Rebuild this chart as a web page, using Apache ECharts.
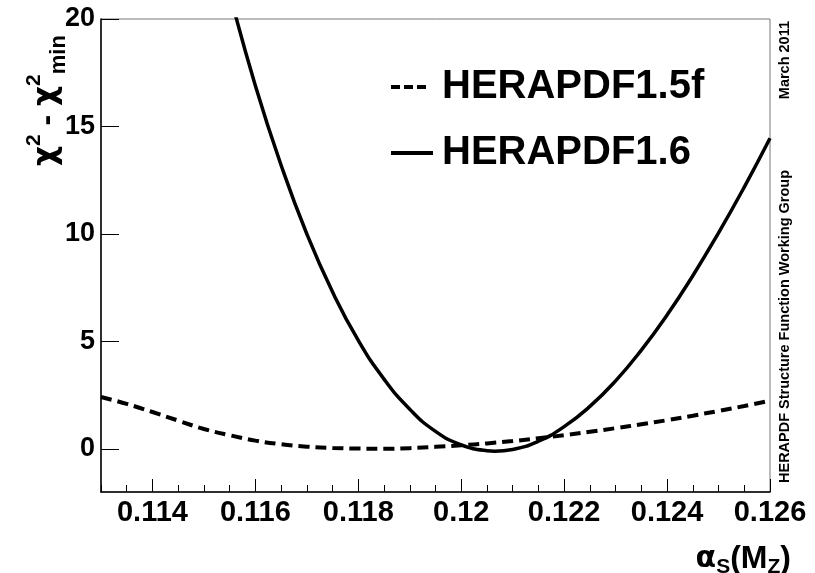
<!DOCTYPE html>
<html>
<head>
<meta charset="utf-8">
<script src="https://cdn.jsdelivr.net/npm/echarts@6/dist/echarts.min.js"></script>
<style>
html, body { margin: 0; padding: 0; background: #ffffff; }
#chart { width: 815px; height: 573px; }
</style>
</head>
<body>
<div id="chart"></div>
<script>
// HERAPDF1.5f scan: alpha_s(M_Z) and chi2 - chi2_min (dashed curve)
const alphaS15f = [0.113, 0.1135, 0.114, 0.1145, 0.115, 0.1155, 0.116, 0.1165, 0.117, 0.1175,
                   0.118, 0.1185, 0.119, 0.1195, 0.120, 0.1205, 0.121, 0.1215, 0.122, 0.1225,
                   0.123, 0.1235, 0.124, 0.1245, 0.125, 0.1255, 0.126];
const chi2Herapdf15f = [2.42, 2.10, 1.72, 1.32, 0.93, 0.64, 0.39, 0.22, 0.11, 0.05,
                        0.02, 0.01, 0.04, 0.10, 0.17, 0.26, 0.37, 0.50, 0.64, 0.80,
                        0.97, 1.15, 1.34, 1.55, 1.77, 2.00, 2.25];

// HERAPDF1.6 scan: alpha_s(M_Z) and chi2 - chi2_min (solid curve)
const alphaS16 = [0.1155, 0.116, 0.1165, 0.117, 0.1175, 0.118, 0.1185, 0.119, 0.1195, 0.120,
                  0.1205, 0.12065, 0.121, 0.1215, 0.122, 0.1225, 0.123, 0.1235, 0.124, 0.1245,
                  0.125, 0.1255, 0.126];
const chi2Herapdf16 = [21.2, 16.9, 13.2, 10.0, 7.3, 5.05, 3.25, 1.85, 0.82, 0.19,
                       -0.08, -0.1, -0.02, 0.36, 1.04, 1.98, 3.17, 4.6, 6.23, 8.06,
                       10.05, 12.18, 14.45];

const seriesNames = ['HERAPDF1.5f', 'HERAPDF1.6'];
const xTickValues = [0.114, 0.116, 0.118, 0.120, 0.122, 0.124, 0.126];
const yTickValues = [0, 5, 10, 15, 20];

const FONT = '"Liberation Sans", Arial, Helvetica, sans-serif';
const GREEK = '"DejaVu Sans", "Liberation Sans", sans-serif';

const pairs = (xs, ys) => xs.map((x, i) => [x, ys[i]]);
const fmtX = (v) => String(Number(v.toFixed(4)));

// legend glyphs: three short dashes / one solid bar
const ICON_DASHED = 'path://M0,0h9v3h-9Z M13,0h9v3h-9Z M26,0h9v3h-9Z M42,0h0.01v3h-0.01Z';
const ICON_SOLID = 'path://M0,0h42v3h-42Z';

const chart = echarts.init(document.getElementById('chart'), null, { renderer: 'canvas' });

chart.setOption({
  animation: false,
  backgroundColor: '#ffffff',
  grid: {
    left: 101, right: 45, top: 19, bottom: 81,
    show: true, borderColor: '#777777', borderWidth: 1, backgroundColor: 'transparent'
  },
  legend: {
    orient: 'vertical',
    left: 386, top: 62,
    itemWidth: 42, itemHeight: 4, itemGap: 26,
    symbolKeepAspect: false,
    data: [
      { name: seriesNames[0], icon: ICON_DASHED },
      { name: seriesNames[1], icon: ICON_SOLID }
    ],
    textStyle: { fontFamily: FONT, fontWeight: 'bold', fontSize: 40, color: '#000',
                 padding: [0, 0, 0, 4] }
  },
  xAxis: [
    {
      type: 'value', min: 0.113, max: 0.126,
      axisLine: { show: true, onZero: false, lineStyle: { color: '#000', width: 1.5 } },
      axisTick: { show: true, inside: true, length: 13, customValues: xTickValues,
                  lineStyle: { color: '#000', width: 1 } },
      axisLabel: { show: true, customValues: xTickValues, formatter: fmtX, margin: 6,
                   fontFamily: FONT, fontWeight: 'bold', fontSize: 29, color: '#000' },
      splitLine: { show: false }
    },
    {
      // short ticks every 0.0005
      type: 'value', min: 0.113, max: 0.126, interval: 0.0005, position: 'bottom',
      axisLine: { show: false, onZero: false },
      axisTick: { show: true, inside: true, length: 7, lineStyle: { color: '#000', width: 1 } },
      axisLabel: { show: false },
      splitLine: { show: false }
    }
  ],
  yAxis: {
    type: 'value', min: -2, max: 20,
    axisLine: { show: true, onZero: false, lineStyle: { color: '#000', width: 1.5 } },
    axisTick: { show: true, inside: true, length: 18, customValues: yTickValues,
                lineStyle: { color: '#000', width: 1 } },
    axisLabel: { show: true, customValues: yTickValues, margin: 6,
                 fontFamily: FONT, fontWeight: 'bold', fontSize: 27, color: '#000' },
    splitLine: { show: false }
  },
  series: [
    {
      name: seriesNames[0], type: 'line', xAxisIndex: 0, data: pairs(alphaS15f, chi2Herapdf15f),
      symbol: 'none', smooth: 0.4, clip: true,
      lineStyle: { color: '#000', width: 4, type: [11, 6] },
      itemStyle: { color: '#000' }
    },
    {
      name: seriesNames[1], type: 'line', xAxisIndex: 0, data: pairs(alphaS16, chi2Herapdf16),
      symbol: 'none', smooth: 0.5, clip: true,
      lineStyle: { color: '#000', width: 3.5, type: 'solid' },
      itemStyle: { color: '#000' }
    }
  ],
  graphic: [
    {
      // y-axis title
      type: 'text', x: 47, y: 166, rotation: Math.PI / 2,
      style: {
        text: '{chi|χ}{sup|2} - {chi|χ}{sup|2}{sub|min}',
        textAlign: 'left', textVerticalAlign: 'middle',
        font: 'bold 32px ' + FONT, fill: '#000',
        rich: {
          chi: { fontFamily: GREEK, fontWeight: 'bold', fontSize: 31, lineHeight: 46 },
          sup: { fontFamily: FONT, fontWeight: 'bold', fontSize: 21, verticalAlign: 'top', lineHeight: 46 },
          sub: { fontFamily: FONT, fontWeight: 'bold', fontSize: 22, verticalAlign: 'bottom', lineHeight: 46 }
        }
      }
    },
    {
      // x-axis title
      type: 'text', x: 791, y: 559,
      style: {
        text: '{alpha|α}{sub|S}(M{sub|Z})',
        textAlign: 'right', textVerticalAlign: 'middle',
        font: 'bold 32px ' + FONT, fill: '#000',
        rich: {
          alpha: { fontFamily: GREEK, fontWeight: 'bold', fontSize: 30, lineHeight: 38 },
          sub: { fontFamily: FONT, fontWeight: 'bold', fontSize: 21, verticalAlign: 'bottom', lineHeight: 38 }
        }
      }
    },
    {
      type: 'text', x: 785, y: 483, rotation: Math.PI / 2,
      style: {
        text: 'HERAPDF Structure Function Working Group',
        textAlign: 'left', textVerticalAlign: 'middle',
        font: 'bold 14.5px ' + FONT, fill: '#000'
      }
    },
    {
      type: 'text', x: 785, y: 21, rotation: Math.PI / 2,
      style: {
        text: 'March 2011',
        textAlign: 'right', textVerticalAlign: 'middle',
        font: 'bold 14.5px ' + FONT, fill: '#000'
      }
    }
  ]
});
</script>
</body>
</html>
